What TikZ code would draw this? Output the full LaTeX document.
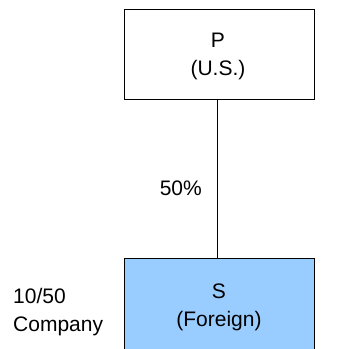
\documentclass[tikz,border=0pt]{standalone}
\usepackage{fontspec}
\setmainfont{Liberation Sans}
\definecolor{sblue}{RGB}{153,204,255}
\begin{document}
\begin{tikzpicture}[x=1pt,y=-1pt,
  box/.style={draw=black, line width=1pt, minimum width=190pt, inner sep=0pt},
  lbl/.style={font=\fontsize{21}{28}\selectfont, inner sep=0pt},
  link/.style={draw=black, line width=1pt}]
\useasboundingbox (0,0) rectangle (339,349);
\clip (0,0) rectangle (339,349);
\node[box, minimum height=90pt] (P) at (219.5,54) {};
\node[box, minimum height=96pt, fill=sblue] (S) at (219,306) {};
\coordinate (lx) at (217.5,0);
\draw[link] (P.south -| lx) -- (S.north -| lx);
\node[lbl, anchor=base] (Pa) at (218,47) {P};
\node[lbl, anchor=base] (Pb) at (218,75) {(U.S.)};
\node[lbl, anchor=base] (Sa) at (219,298) {S};
\node[lbl, anchor=base] (Sb) at (219,326) {(Foreign)};
\node[lbl, anchor=base east] (pct) at (202,195) {50\%};
\node[lbl, anchor=base west] (c1) at (13,303) {10/50};
\node[lbl, anchor=base west] (c2) at (13,331) {Company};
\end{tikzpicture}
\end{document}
